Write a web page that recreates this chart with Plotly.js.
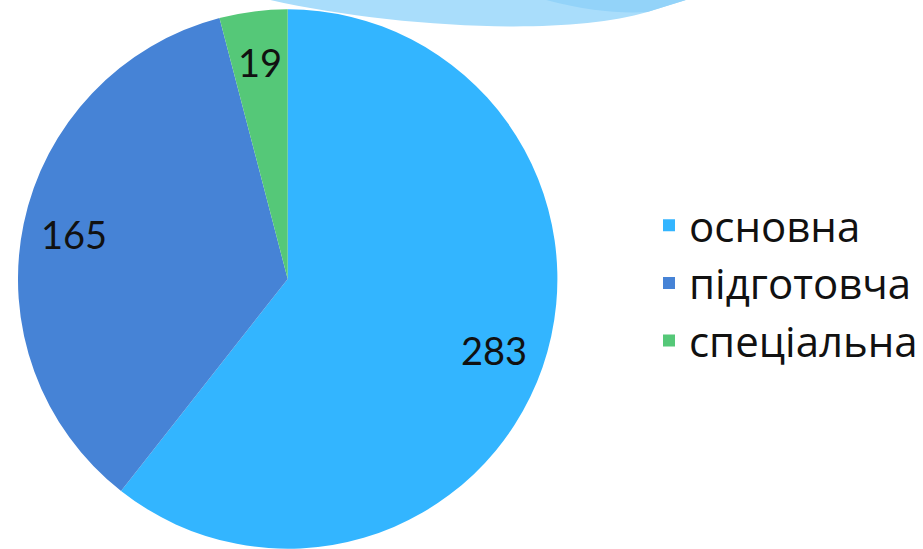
<!DOCTYPE html>
<html><head><meta charset="utf-8">
<script src="https://cdn.plot.ly/plotly-3.0.1.min.js"></script>
<style>html,body{margin:0;padding:0;background:#fff;}#chart{width:923px;height:549px;}</style>
</head><body><div id="chart"></div>
<script>
const labels = ['основна', 'підготовча', 'спеціальна'];
const values = [283, 165, 19];
const colors = ['#33B5FF', '#4683D6', '#55C878'];

const W = 923, H = 549;
function px(x){return (x/W).toFixed(4);}
function py(y){return (1 - y/H).toFixed(4);}
const swoosh = 'M' + px(262)+','+py(-2) + ' C' + px(380)+','+py(26)+' '+px(560)+','+py(38)+' '+px(648)+','+py(12) +
  ' L' + px(693)+','+py(-2) + ' Z';
const swoosh2 = 'M' + px(540)+','+py(-2) + ' C' + px(580)+','+py(10)+' '+px(620)+','+py(14)+' '+px(648)+','+py(12) +
  ' L' + px(693)+','+py(-2) + ' Z';

// pie geometry (domain) -> label positions computed from values
const domX = [18/W, 558/W], domY = [0, 540/H];
const cx = (domX[0]+domX[1])/2 * W, cy = H - (domY[0]+domY[1])/2 * H, R = 270;
const total = values.reduce((a,b)=>a+b,0);
let cum = 0;
const annotations = values.map(v => {
  const mid = (cum + v/2) / total * 2*Math.PI; cum += v;
  const rr = 0.81 * R;
  const x = cx + rr*Math.sin(mid), y = cy - rr*Math.cos(mid);
  return {x: x/W, y: 1 - y/H, xref: 'paper', yref: 'paper', xanchor: 'center', yanchor: 'middle',
    text: String(v), showarrow: false,
    font: {family: 'Lato, sans-serif', size: 38, color: '#111'}};
});

const data = [{
  type: 'pie',
  labels: labels,
  values: values,
  marker: {colors: colors, line: {width: 0}},
  sort: false,
  direction: 'clockwise',
  rotation: 0,
  textinfo: 'none',
  hoverinfo: 'label+value',
  domain: {x: domX, y: domY}
}];

const layout = {
  width: W, height: H,
  margin: {l: 0, r: 0, t: 0, b: 0},
  paper_bgcolor: '#fff',
  showlegend: true,
  legend: {
    x: 650/W, xanchor: 'left', y: 1 - 283/H, yanchor: 'middle',
    font: {family: 'Open Sans, sans-serif', size: 42, color: '#111'},
    bgcolor: 'rgba(0,0,0,0)'
  },
  annotations: annotations,
  shapes: [
    {type: 'path', xref: 'paper', yref: 'paper', path: swoosh, fillcolor: '#A9DDFB', line: {width: 0}, layer: 'below'},
    {type: 'path', xref: 'paper', yref: 'paper', path: swoosh2, fillcolor: '#93D3F9', line: {width: 0}, layer: 'below'}
  ]
};

Plotly.newPlot('chart', data, layout, {displayModeBar: false, staticPlot: true});
</script></body></html>
